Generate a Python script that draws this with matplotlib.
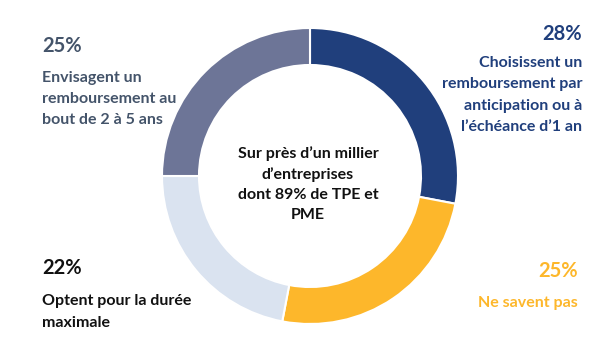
import matplotlib.pyplot as plt

# Répartition des intentions de remboursement
parts = [28, 25, 22, 25]
colors = ['#203F7C', '#FDB72B', '#DAE3F0', '#6D7597']
pct_labels = ['28%', '25%', '22%', '25%']
desc_labels = [
    'Choisissent un\nremboursement par\nanticipation ou à\nl\u2019échéance d\u20191 an',
    'Ne savent pas',
    'Optent pour la durée\nmaximale',
    'Envisagent un\nremboursement au\nbout de 2 à 5 ans',
]
center_label = 'Sur près d\u2019un millier\nd\u2019entreprises\ndont 89% de TPE et\nPME'

W, H = 600, 337
plt.rcParams['font.family'] = ['Lato', 'DejaVu Sans']

fig = plt.figure(figsize=(W / 100, H / 100), dpi=100)
ax = fig.add_axes([0, 0, 1, 1])

ax.pie(parts, colors=colors, startangle=90, counterclock=False,
       center=(310, H - 176), radius=148,
       wedgeprops=dict(width=37, edgecolor='white', linewidth=1.5))
ax.set_xlim(0, W)
ax.set_ylim(0, H)
ax.set_aspect('equal')
ax.axis('off')


def put(x, y, s, size, color, ha, spacing=1.65):
    # y en pixels depuis le haut
    ax.text(x, H - y, s, fontsize=size, fontweight='bold', color=color,
            ha=ha, va='center', linespacing=spacing)


# (x pourcentage, y pourcentage, y texte, alignement, couleur texte)
places = [
    (582, 34, 95, 'right', '#203F7C'),
    (578, 271, 303, 'right', '#FDB72B'),
    (42, 268, 312, 'left', '#111111'),
    (42, 46, 99, 'left', '#44546A'),
]
for (x, yp, yt, ha, c), p, d in zip(places, pct_labels, desc_labels):
    put(x, yp, p, 14.5, c, ha)
    put(x, yt, d, 11.5, c, ha)

put(308, 184, center_label, 11.5, '#111111', 'center', spacing=1.55)

fig.savefig('out.png', dpi=100)
